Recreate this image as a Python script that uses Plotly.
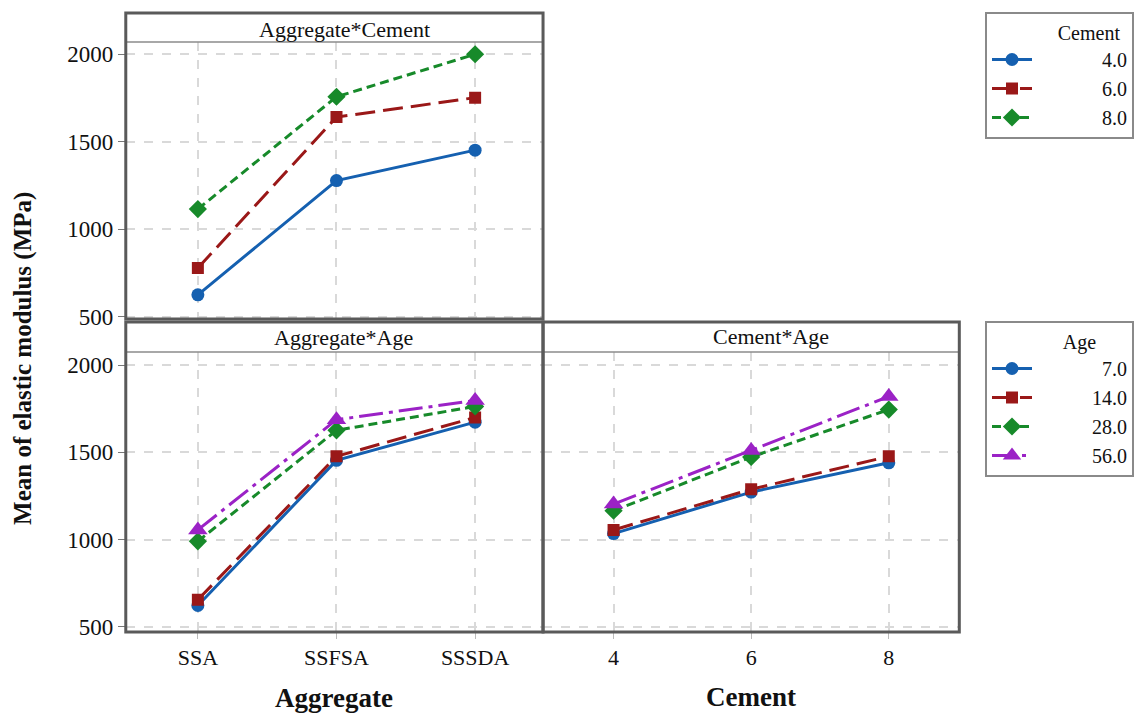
import plotly.graph_objects as go

# ---------------- data ----------------
aggregate = ["SSA", "SSFSA", "SSSDA"]
cement_levels = [4, 6, 8]
cement_names = ["4.0", "6.0", "8.0"]
age_names = ["7.0", "14.0", "28.0", "56.0"]

# Aggregate*Cement (mean elastic modulus, MPa)
agg_cement_4 = [625, 1278, 1452]
agg_cement_6 = [778, 1641, 1752]
agg_cement_8 = [1115, 1757, 2000]

# Aggregate*Age
agg_age_7 = [622, 1454, 1673]
agg_age_14 = [655, 1477, 1700]
agg_age_28 = [990, 1626, 1763]
agg_age_56 = [1055, 1687, 1797]

# Cement*Age
cem_age_7 = [1034, 1272, 1440]
cem_age_14 = [1055, 1288, 1477]
cem_age_28 = [1165, 1473, 1745]
cem_age_56 = [1203, 1511, 1820]

y_ticks = [500, 1000, 1500, 2000]

# ---------------- styles ----------------
W, H = 1134, 715
FONT = "Liberation Serif, Times New Roman, serif"
styles = [
    dict(color="#1560b0", dash="solid", symbol="circle", size=13),
    dict(color="#9a1818", dash="20px,8px", symbol="square", size=12),
    dict(color="#178a2a", dash="9px,5px", symbol="diamond", size=14),
    dict(color="#9b22c6", dash="24px,6px,4px,6px", symbol="triangle-up", size=17),
]


def px(x):
    return x / W


def py(y):
    return 1 - y / H


fig = go.Figure()


def add(x, y, st, name, xa, ya, legend, show):
    fig.add_trace(go.Scatter(
        x=x, y=y, mode="lines+markers", name=name,
        xaxis=xa, yaxis=ya, legend=legend, showlegend=show,
        legendgroup=legend + name,
        line=dict(color=st["color"], dash=st["dash"], width=3),
        marker=dict(symbol=st["symbol"], size=st["size"], color=st["color"]),
    ))


NB = "\u00a0"
for vals, st, nm in zip([agg_cement_4, agg_cement_6, agg_cement_8], styles, cement_names):
    add(aggregate, vals, st, NB * 13 + nm, "x", "y", "legend", True)

for vals, st, nm in zip([agg_age_7, agg_age_14, agg_age_28, agg_age_56], styles, age_names):
    add(aggregate, vals, st, nm, "x2", "y2", "legend2", False)

for vals, st, nm in zip([cem_age_7, cem_age_14, cem_age_28, cem_age_56], styles, age_names):
    add(cement_levels, vals, st, NB * (13 if len(nm) == 3 else 11) + nm,
        "x3", "y3", "legend2", True)

# panel pixel geometry
L0, L1, R1 = 126, 544, 961
TOP_BOX, TOP_HDR, TOP_BOT = 13, 42, 319
BOT_BOX, BOT_HDR, BOT_BOT = 322, 352, 632

grid = dict(showgrid=True, gridcolor="#d9d9d9", gridwidth=1.5, griddash="dash",
            zeroline=False, showline=False, automargin=False)
ytickfont = dict(family=FONT, size=23, color="#111")
xtickfont = dict(family=FONT, size=22, color="#111")

fig.update_layout(
    width=W, height=H,
    margin=dict(l=0, r=0, t=0, b=0),
    paper_bgcolor="white", plot_bgcolor="white",
    font=dict(family=FONT, color="#111"),
    template="none",
    xaxis=dict(domain=[px(L0), px(L1)], anchor="y", type="category",
               range=[-0.52, 2.49], showticklabels=False, ticks="", **grid),
    yaxis=dict(domain=[py(TOP_BOT), py(TOP_HDR)], anchor="x", range=[487, 2070],
               tickvals=y_ticks, ticks="outside", ticklen=7, tickcolor="#777",
               tickfont=ytickfont, **grid),
    xaxis2=dict(domain=[px(L0), px(L1)], anchor="y2", type="category",
                range=[-0.52, 2.49], ticks="outside", ticklen=6, tickcolor="#bbbbbb",
                tickfont=xtickfont, **grid),
    yaxis2=dict(domain=[py(BOT_BOT), py(BOT_HDR)], anchor="x2", range=[470, 2075],
                tickvals=y_ticks, ticks="outside", ticklen=7, tickcolor="#777",
                tickfont=ytickfont, **grid),
    xaxis3=dict(domain=[px(L1), px(R1)], anchor="y3", range=[2.975, 9.025],
                tickvals=cement_levels, ticks="outside", ticklen=6, tickcolor="#bbbbbb",
                tickfont=xtickfont, **grid),
    yaxis3=dict(domain=[py(BOT_BOT), py(BOT_HDR)], anchor="x3", range=[470, 2075],
                tickvals=y_ticks, showticklabels=False, ticks="", **grid),
    legend=dict(x=px(987), y=py(12), xanchor="left", yanchor="top",
                bordercolor="#8a8a8a", borderwidth=2, bgcolor="white",
                font=dict(family=FONT, size=20, color="#111"),
                title=dict(text="Cement" + NB * 2, side="top right",
                           font=dict(family=FONT, size=20, color="#111")),
                tracegroupgap=0, itemwidth=40),
    legend2=dict(x=px(987), y=py(321), xanchor="left", yanchor="top",
                 bordercolor="#8a8a8a", borderwidth=2, bgcolor="white",
                 font=dict(family=FONT, size=20, color="#111"),
                 title=dict(text=NB * 8 + "Age", side="top center",
                            font=dict(family=FONT, size=20, color="#111")),
                 tracegroupgap=0, itemwidth=40),
)

shapes = []
# header strips
for x0, x1, y0, y1 in [(L0, L1, TOP_BOX, TOP_HDR), (L0, L1, BOT_BOX, BOT_HDR), (L1, R1, BOT_BOX, BOT_HDR)]:
    shapes.append(dict(type="rect", xref="paper", yref="paper", x0=px(x0), x1=px(x1),
                       y0=py(y1), y1=py(y0), fillcolor="white",
                       line=dict(color="#8c8c8c", width=1.5), layer="above"))
# panel boxes
for x0, x1, y0, y1 in [(L0, L1, TOP_BOX, TOP_BOT), (L0, L1, BOT_BOX, BOT_BOT), (L1, R1, BOT_BOX, BOT_BOT)]:
    shapes.append(dict(type="rect", xref="paper", yref="paper", x0=px(x0), x1=px(x1),
                       y0=py(y1), y1=py(y0), fillcolor="rgba(0,0,0,0)",
                       line=dict(color="#5a5a5a", width=3), layer="above"))
fig.update_layout(shapes=shapes)

ann = []
for text, cx, cy in [("Aggregate*Cement", 345, 29), ("Aggregate*Age", 344, 337), ("Cement*Age", 772, 336)]:
    ann.append(dict(text=text, x=px(cx), y=py(cy), xref="paper", yref="paper",
                    showarrow=False, xanchor="center", yanchor="middle",
                    font=dict(family=FONT, size=22, color="#111")))
ann.append(dict(text="<b>Aggregate</b>", x=px(335), y=py(698), xref="paper", yref="paper",
                showarrow=False, xanchor="center", yanchor="middle",
                font=dict(family=FONT, size=27, color="#111")))
ann.append(dict(text="<b>Cement</b>", x=px(752), y=py(697), xref="paper", yref="paper",
                showarrow=False, xanchor="center", yanchor="middle",
                font=dict(family=FONT, size=27, color="#111")))
ann.append(dict(text="<b>Mean of elastic modulus (MPa)</b>", x=px(23), y=py(358),
                xref="paper", yref="paper", showarrow=False, textangle=-90,
                xanchor="center", yanchor="middle",
                font=dict(family=FONT, size=25, color="#111")))
fig.update_layout(annotations=ann)

fig.write_html(
    "out.html",
    config={"displayModeBar": False},
    post_script="document.body.style.margin='0';document.body.style.overflow='hidden';",
)
